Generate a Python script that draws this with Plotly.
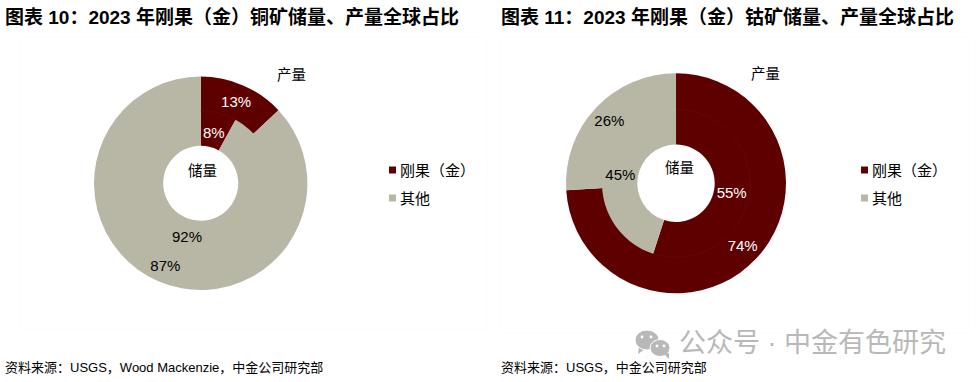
import plotly.graph_objects as go

W, H = 976, 382
labels = ["刚果（金）", "其他"]
cu_output = [13, 87]
cu_reserve = [8, 92]
co_output = [74, 26]
co_reserve = [55, 45]
colors = ["#5f0000", "#b8b7a5"]
titles = ["图表 10：2023 年刚果（金）铜矿储量、产量全球占比", "图表 11：2023 年刚果（金）钴矿储量、产量全球占比"]
sources = ["资料来源：USGS，Wood Mackenzie，中金公司研究部", "资料来源：USGS，中金公司研究部"]
FONT = "Liberation Sans, Noto Sans CJK SC, sans-serif"

def dom(cx, cy, r):
    return dict(x=[(cx - r) / W, (cx + r) / W], y=[1 - (cy + r) / H, 1 - (cy - r) / H])

def ring(vals, cx, cy, r, hole, tmpl="%{percent:.0%}"):
    return go.Pie(values=vals, labels=labels, sort=False, direction="clockwise", rotation=0,
                  domain=dom(cx, cy, r), hole=hole / r, showlegend=False,
                  marker=dict(colors=colors, line=dict(color="rgba(255,255,255,0.05)", width=0.6)),
                  texttemplate=tmpl, textposition="inside",
                  insidetextorientation="horizontal",
                  textfont=dict(family=FONT, size=15, color=["#ffffff", "#000000"]), hoverinfo="skip")

fig = go.Figure()
fig.add_trace(ring(cu_output, 200.7, 183.3, 106.7, 71.5))
fig.add_trace(ring(cu_reserve, 200.7, 183.3, 72.5, 37.5, ["", "%{percent:.0%}"]))
fig.add_trace(ring(co_output, 676, 183.3, 110, 73))
fig.add_trace(ring(co_reserve, 676, 183.3, 74, 38.7))

ann = []
def txt(x, y, s, size=14.5, color="#000", anchor="left"):
    ann.append(dict(x=x / W, y=1 - y / H, xref="paper", yref="paper", text=s, showarrow=False,
                    xanchor=anchor, yanchor="middle", font=dict(family=FONT, size=size, color=color)))

txt(3, 17, f"<b>{titles[0]}</b>", 19)
txt(499, 17, f"<b>{titles[1]}</b>", 19)
txt(3, 367, sources[0], 13)
txt(499, 367, sources[1], 13)
txt(291, 75, "产量", anchor="center")
txt(765, 74, "产量", anchor="center")
txt(202.5, 171, "储量", anchor="center")
txt(679, 168, "储量", anchor="center")
txt(214, 132, f"{cu_reserve[0]}%", size=15, color="#ffffff", anchor="center")

def px_x(x): return x / W
def px_y(y): return 1 - y / H

shapes = []
for x0, y0, x1, y1 in ((21, 37, 486, 329), (501, 37, 968, 333)):
    shapes.append(dict(type="rect", xref="paper", yref="paper", x0=px_x(x0), x1=px_x(x1),
                       y0=px_y(y1), y1=px_y(y0), line=dict(color="#fcfcfc", width=1), layer="below"))
for lx in (389, 861):
    for i, (ly, lab) in enumerate(zip((170, 198), labels)):
        shapes.append(dict(type="rect", xref="paper", yref="paper", x0=px_x(lx), x1=px_x(lx + 7),
                           y0=px_y(ly + 3.5), y1=px_y(ly - 3.5), fillcolor=colors[i], line_width=0))
        txt(lx + 9, ly, lab, 15)

GREY = "#b8b8b8"
txt(677, 343, "公众号 · 中金有色研究", 27, GREY)
def tail(pts):
    d = "M" + " L".join(f"{px_x(a)},{px_y(b)}" for a, b in pts) + " Z"
    shapes.append(dict(type="path", xref="paper", yref="paper", path=d, fillcolor=GREY, line_width=0))
tail([(639, 346), (645, 349), (638, 354)])
for cx, cy, rx, ry in ((647, 340, 12, 10), (660, 348, 10, 8.5)):
    shapes.append(dict(type="circle", xref="paper", yref="paper", x0=px_x(cx - rx), x1=px_x(cx + rx),
                       y0=px_y(cy + ry), y1=px_y(cy - ry), fillcolor=GREY,
                       line=dict(color="#ffffff", width=1)))
tail([(664, 354), (669, 353), (669, 359)])
for ex, ey in ((642, 337), (651, 337), (657, 346), (664, 346)):
    shapes.append(dict(type="circle", xref="paper", yref="paper", x0=px_x(ex - 1.4), x1=px_x(ex + 1.4),
                       y0=px_y(ey + 1.4), y1=px_y(ey - 1.4), fillcolor="#ffffff", line_width=0))

fig.update_layout(width=W, height=H, margin=dict(l=0, r=0, t=0, b=0), paper_bgcolor="#fff",
                  showlegend=False, annotations=ann, shapes=shapes, font=dict(family=FONT))
fig.write_html("out.html", config={"displayModeBar": False},
               post_script="document.body.style.margin='0';document.body.style.overflow='hidden';")
